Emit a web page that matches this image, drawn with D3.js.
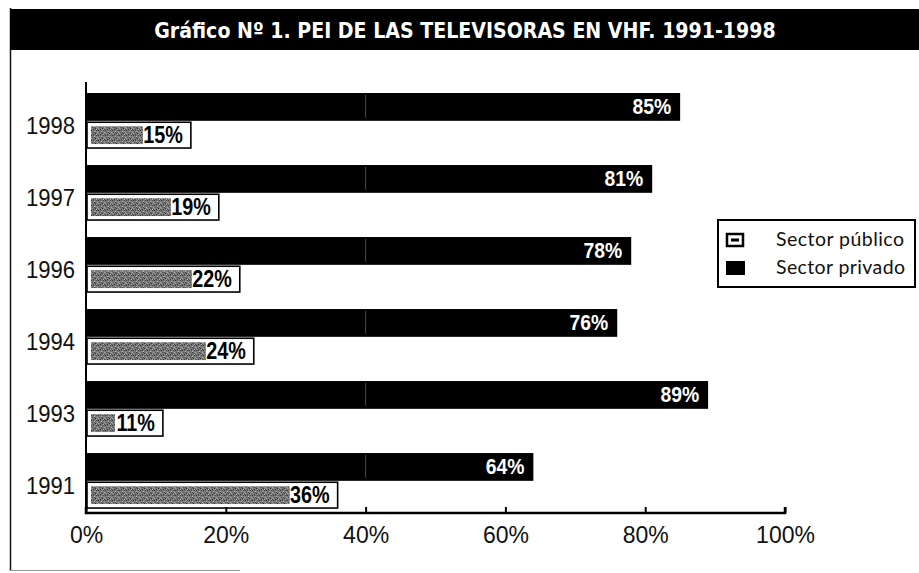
<!DOCTYPE html>
<html><head><meta charset="utf-8">
<script src="https://cdn.jsdelivr.net/npm/d3@7"></script>
<style>
html,body{margin:0;padding:0;background:#fff;}
svg{display:block;}
</style></head>
<body>
<svg id="chart" width="919" height="573"></svg>
<script>
const years = ["1998","1997","1996","1994","1993","1991"];
const privado = [85,81,78,76,89,64];
const publico = [15,19,22,24,11,36];
const xTicks = [0,20,40,60,80,100];
const seriesNames = ["Sector público","Sector privado"];
const titleText = "Gráfico Nº 1. PEI DE LAS TELEVISORAS EN VHF. 1991-1998";

const svg = d3.select("#chart");
const W = 919, H = 573;

// texture pattern for public sector fill
const defs = svg.append("defs");
const pat = defs.append("pattern").attr("id","grain").attr("patternUnits","userSpaceOnUse")
  .attr("width",7).attr("height",5);
pat.append("rect").attr("width",7).attr("height",5).attr("fill","#7a7a7a");
[[0,0,"#333"],[3,1,"#bdbdbd"],[5,0,"#444"],[1,2,"#555"],[4,3,"#2c2c2c"],[6,2,"#a8a8a8"],[2,4,"#3a3a3a"],[5,4,"#b5b5b5"],[0,3,"#999"],[3,2,"#404040"],[2,0,"#5a5a5a"],[6,4,"#4a4a4a"]]
  .forEach(([px,py,c])=>pat.append("rect").attr("x",px).attr("y",py).attr("width",1).attr("height",1).attr("fill",c));

// outer frame (scan border)
svg.append("line").attr("x1",10.5).attr("x2",10.5).attr("y1",8).attr("y2",571)
  .attr("stroke","#111").attr("stroke-width",1.5);
svg.append("line").attr("x1",10).attr("x2",240).attr("y1",570.5).attr("y2",570.5)
  .attr("stroke","#999").attr("stroke-width",1);

// title bar
svg.append("rect").attr("x",10).attr("y",9).attr("width",W-10).attr("height",41).attr("fill","#000");
const title = svg.append("text").attr("x",0).attr("y",0).attr("text-anchor","middle")
  .attr("font-family","'DejaVu Sans Condensed','DejaVu Sans',sans-serif").attr("font-weight","bold")
  .attr("font-size",22).attr("fill","#fff")
  .text(titleText);
const tw = title.node().getComputedTextLength();
const ts = Math.min(1, 622 / tw);
title.attr("transform",`translate(465,38) scale(${ts},1)`);

// scales
const x = d3.scaleLinear().domain([0,100]).range([86,785]);
const y = d3.scaleBand().domain(years).range([82,513]).paddingInner(0.236).paddingOuter(0.111).align(0.69);
const y1 = d3.scaleBand().domain(["privado","publico"]).range([0,y.bandwidth()]).paddingInner(0.05);

const numFont = "'Liberation Sans',Arial,sans-serif";
const sx = 0.86;

const g = svg.append("g");

// private bars
g.selectAll("rect.priv").data(years).join("rect").attr("class","priv")
  .attr("x",x(0)).attr("y",d=>y(d)+y1("privado"))
  .attr("width",(d,i)=>x(privado[i])-x(0)).attr("height",y1.bandwidth()+1)
  .attr("fill","#000");
g.selectAll("text.privl").data(years).join("text").attr("class","privl")
  .attr("transform",(d,i)=>`translate(${x(privado[i])-9},${y(d)+y1("privado")+y1.bandwidth()/2+8}) scale(${sx},1)`)
  .attr("text-anchor","end").attr("font-family",numFont).attr("font-weight","bold")
  .attr("font-size",22.5).attr("fill","#fff").text((d,i)=>privado[i]+"%");

// faint vertical streak at 40% inside black bars
g.selectAll("line.streak").data(years).join("line").attr("class","streak")
  .attr("x1",x(40)).attr("x2",x(40)).attr("y1",d=>y(d)+y1("privado")+2).attr("y2",d=>y(d)+y1("privado")+y1.bandwidth()-2)
  .attr("stroke","#777").attr("stroke-width",1).attr("opacity",0.6);

// public bars
const pub = g.selectAll("g.pub").data(years).join("g").attr("class","pub");
pub.append("rect")
  .attr("x",x(0)+1).attr("y",d=>y(d)+y1("publico")+1)
  .attr("width",(d,i)=>x(publico[i])-x(0)-1).attr("height",y1.bandwidth()-1)
  .attr("fill","#fff").attr("stroke","#000").attr("stroke-width",1.6);
pub.append("rect")
  .attr("x",x(0)+5).attr("y",d=>y(d)+y1("publico")+5)
  .attr("width",(d,i)=>Math.max(0,x(publico[i])-x(0)-53)).attr("height",y1.bandwidth()-9)
  .attr("fill","url(#grain)");
pub.append("text")
  .attr("transform",(d,i)=>`translate(${x(publico[i])-8},${y(d)+y1("publico")+y1.bandwidth()/2+8.5}) scale(${sx},1)`)
  .attr("text-anchor","end").attr("font-family",numFont).attr("font-weight","bold")
  .attr("font-size",23).attr("fill","#000").text((d,i)=>publico[i]+"%");

// y axis
svg.append("line").attr("x1",x(0)).attr("x2",x(0)).attr("y1",82).attr("y2",514)
  .attr("stroke","#000").attr("stroke-width",2);
svg.selectAll("text.ylab").data(years).join("text").attr("class","ylab")
  .attr("transform",d=>`translate(75,${y(d)+y1("publico")+13}) scale(0.92,1)`)
  .attr("text-anchor","end").attr("font-family","'Liberation Sans',Arial,sans-serif")
  .attr("font-size",24).attr("fill","#111").text(d=>d);

// x axis
const xa = svg.append("g").attr("transform","translate(0,513)")
  .call(d3.axisBottom(x).tickValues(xTicks).tickSize(-6).tickPadding(14).tickFormat(d=>d+"%"));
xa.select(".domain").attr("stroke","#000").attr("stroke-width",2.5).attr("d",`M${x(0)},-6V0H${x(100)}V-6`);
xa.selectAll(".tick line").attr("stroke","#000").attr("stroke-width",2);
xa.selectAll(".tick text").attr("font-family","'Liberation Sans',Arial,sans-serif")
  .attr("font-size",23).attr("fill","#111");

// legend
const lg = svg.append("g");
lg.append("rect").attr("x",718).attr("y",220).attr("width",197).attr("height",67)
  .attr("fill","#fff").attr("stroke","#000").attr("stroke-width",2);
const ly = d3.scaleBand().domain(seriesNames).range([226,282]);
// público symbol
lg.append("rect").attr("x",727).attr("y",ly(seriesNames[0])+ly.bandwidth()/2-6).attr("width",16).attr("height",12)
  .attr("fill","#fff").attr("stroke","#000").attr("stroke-width",2.5);
lg.append("rect").attr("x",731).attr("y",ly(seriesNames[0])+ly.bandwidth()/2-1.5).attr("width",8).attr("height",3).attr("fill","#000");
// privado symbol
lg.append("rect").attr("x",726).attr("y",ly(seriesNames[1])+ly.bandwidth()/2-7).attr("width",19).attr("height",14).attr("fill","#000");
lg.selectAll("text.lg").data(seriesNames).join("text").attr("class","lg")
  .attr("x",776).attr("y",d=>ly(d)+ly.bandwidth()/2+6)
  .attr("font-family","Lato,'Noto Sans',sans-serif").attr("font-size",19.5).attr("fill","#111")
  .attr("textLength",d=>d==="Sector público"?128:129).attr("lengthAdjust","spacing")
  .text(d=>d);
</script>
</body></html>
